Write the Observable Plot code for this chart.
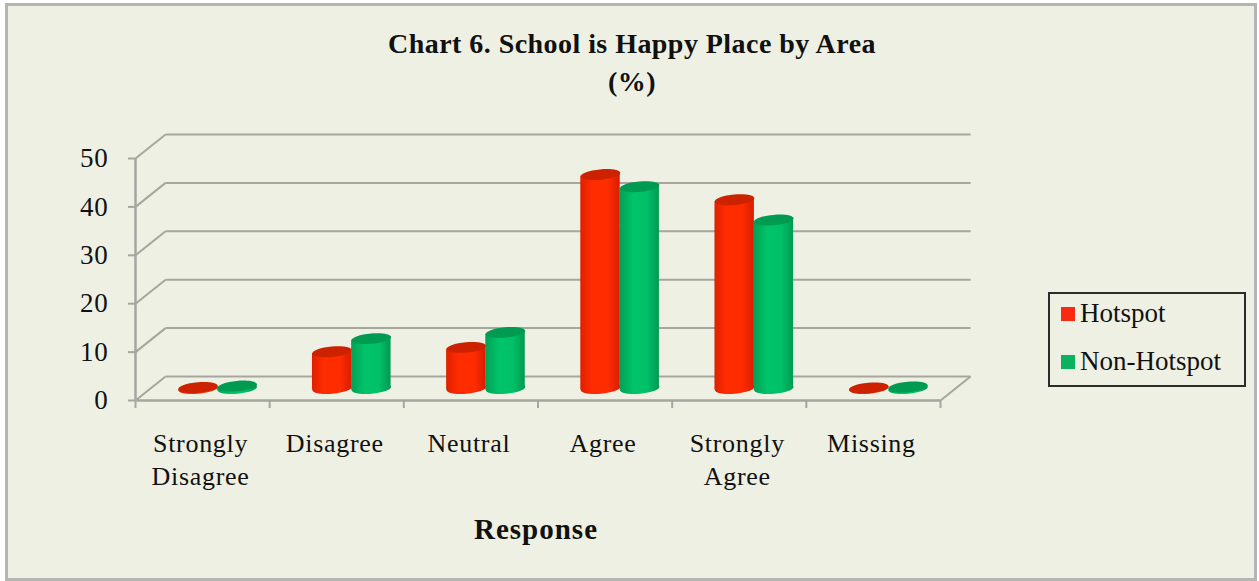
<!DOCTYPE html>
<html><head><meta charset="utf-8">
<script src="https://cdn.jsdelivr.net/npm/d3@7"></script>
<script src="https://cdn.jsdelivr.net/npm/@observablehq/plot@0.6"></script>
<style>
html,body{margin:0;padding:0;background:#fff;width:1259px;height:581px;overflow:hidden}
#frame{position:absolute;left:5px;top:3px;width:1246px;height:572px;border:3px solid #b5b5b3;background:#eef0e3;box-sizing:content-box}
#chart{position:absolute;left:0;top:0}
.t{position:absolute;font-family:"Liberation Serif",serif;color:#111;white-space:nowrap}
.title{left:0;width:1264px;text-align:center;font-weight:bold;font-size:28px;letter-spacing:.45px;line-height:38px}
#legend{position:absolute;left:1048px;top:292px;width:194px;height:91px;border:2px solid #2b2b2b}
.sw{position:absolute;left:1061px;width:14px;height:14px}
</style></head><body>
<div id="frame"></div>
<div id="chart"></div>
<div class="t title" style="top:25px">Chart 6. School is Happy Place by Area</div>
<div class="t title" style="top:63px">(%)</div>
<div class="t" style="left:0;width:1072px;text-align:center;top:513px;font-weight:bold;font-size:29px;letter-spacing:1px">Response</div>
<div id="legend"></div>
<div class="sw" style="top:307px;background:#fa2a12"></div>
<div class="sw" style="top:355px;background:#0bb060"></div>
<div class="t" style="left:1080px;top:298px;font-size:27px">Hotspot</div>
<div class="t" style="left:1080px;top:346px;font-size:27px">Non-Hotspot</div>
<script>
const categories = ["Strongly\nDisagree", "Disagree", "Neutral", "Agree", "Strongly\nAgree", "Missing"];
const hotspot = [0.2, 7.6, 8.5, 44.2, 39, 0.1];
const nonHotspot = [0.5, 10.3, 11.6, 41.7, 34.8, 0.3];
const yTicks = [0, 10, 20, 30, 40, 50];

// Depth of the floor, in data units
const depthX = 0.224, depthY = 4.96;
const barHalf = 0.147, barOffset = 0.146, tilt = 0.357;
const positions = categories.map((_, i) => i);
const edges = d3.range(-0.5, 6, 1);
const gridColor = "#a6a69f";

const rows = (values, sign) => values.map((v, i) => ({
  id: i,
  x: i + sign * barOffset + depthX / 2,
  base: depthY / 2,
  top: depthY / 2 + v
}));
const redRows = rows(hotspot, -1);
const greenRows = rows(nonHotspot, 1);

// Flattened, slightly tilted disc
const disc = {draw(c) {
  const rx = 19.8, ry = 5.2, a = -5 * Math.PI / 180, k = 0.5523;
  const p = (u, v) => [u * rx * Math.cos(a) - v * ry * Math.sin(a), u * rx * Math.sin(a) + v * ry * Math.cos(a)];
  const seg = (u1, v1, u2, v2, u3, v3) => c.bezierCurveTo(...p(u1, v1), ...p(u2, v2), ...p(u3, v3));
  c.moveTo(...p(1, 0));
  seg(1, k, k, 1, 0, 1);
  seg(-k, 1, -1, k, -1, 0);
  seg(-1, -k, -k, -1, 0, -1);
  seg(k, -1, 1, -k, 1, 0);
  c.closePath();
}};

const defs = () => {
  const d = d3.create("svg:defs");
  const grad = (id, stops) => {
    const g = d.append("linearGradient").attr("id", id);
    stops.forEach(([o, col]) => g.append("stop").attr("offset", o).attr("stop-color", col));
  };
  grad("cylRed", [[0, "#e02000"], [0.3, "#ff2c00"], [0.7, "#ff2c00"], [1, "#d81e00"]]);
  grad("cylGreen", [[0, "#00a055"], [0.35, "#00c46a"], [0.7, "#00c068"], [1, "#009a50"]]);
  return d.node();
};

// The side of a cylinder: its top and bottom edges follow the tilt of the discs
const sides = data => data.filter(d => d.top - d.base > 0.4).flatMap(d => [
  {id: d.id, x: d.x - barHalf, y1: d.base - tilt, y2: d.top - tilt},
  {id: d.id, x: d.x + barHalf, y1: d.base + tilt, y2: d.top + tilt}
]);

const cylinder = (data, side, lid) => [
  Plot.dot(data, {x: "x", y: "base", symbol: disc, fill: side, stroke: "none"}),
  Plot.areaY(sides(data), {x: "x", y1: "y1", y2: "y2", z: "id", fill: side}),
  Plot.dot(data, {x: "x", y: "top", symbol: disc, fill: lid, stroke: "none"})
];

const chart = Plot.plot({
  width: 1259,
  height: 581,
  marginLeft: 135,
  marginRight: 319,
  marginTop: 158,
  marginBottom: 181,
  style: {background: "transparent", fontFamily: "Liberation Serif, serif", color: "#111", letterSpacing: "0.7px"},
  x: {type: "linear", domain: [-0.5, 5.5], label: null},
  y: {type: "linear", domain: [0, 50], label: null},
  marks: [
    defs,
    // back wall and side wall grid
    Plot.link(yTicks, {x1: 5.5 + depthX, x2: -0.5 + depthX, y1: v => v + depthY, y2: v => v + depthY, stroke: gridColor, strokeWidth: 2}),
    Plot.link(yTicks, {x1: -0.5, x2: -0.5 + depthX, y1: v => v, y2: v => v + depthY, stroke: gridColor, strokeWidth: 2}),
    // floor right side and front edges
    Plot.link([5.5], {x1: d => d, x2: d => d + depthX, y1: 0, y2: depthY, stroke: gridColor, strokeWidth: 2}),
    Plot.ruleY([0], {stroke: gridColor, strokeWidth: 2.5}),
    Plot.ruleX([-0.5], {stroke: gridColor, strokeWidth: 2.5}),
    Plot.axisY({ticks: yTicks, tickSize: 7, tickPadding: 20, stroke: gridColor, strokeWidth: 2, fontSize: 27, fill: "#111", label: null, anchor: "left"}),
    Plot.axisX({ticks: edges, tickSize: 8, tickFormat: () => "", stroke: gridColor, strokeWidth: 2, label: null, anchor: "bottom"}),
    Plot.axisX({ticks: positions, tickSize: 0, tickPadding: 29, dx: -2, tickFormat: i => categories[i], fontSize: 26, lineHeight: 1.24, fill: "#111", label: null, anchor: "bottom", lineWidth: 100, textOverflow: null}),
    ...cylinder(redRows, "url(#cylRed)", "#cc2200"),
    ...cylinder(greenRows, "url(#cylGreen)", "#009a50")
  ]
});
document.getElementById("chart").appendChild(chart);
</script>
</body></html>
